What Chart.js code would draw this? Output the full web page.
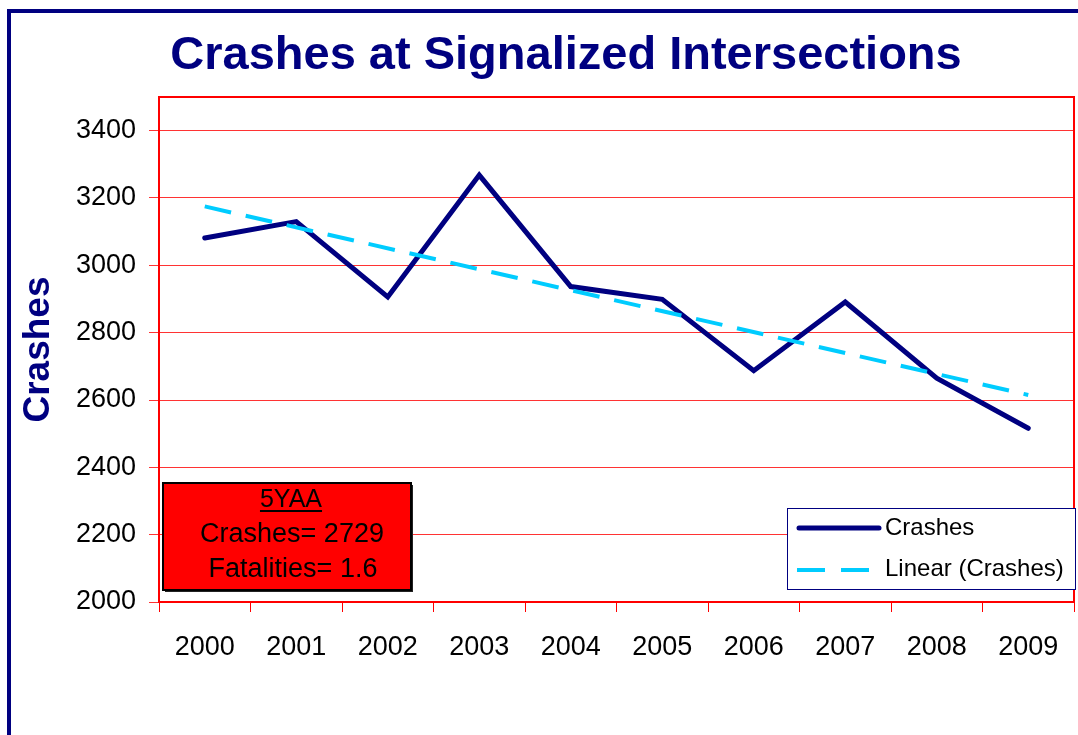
<!DOCTYPE html>
<html>
<head>
<meta charset="utf-8">
<title>Crashes at Signalized Intersections</title>
<script src="https://cdn.jsdelivr.net/npm/chart.js@4.4.1/dist/chart.umd.min.js"></script>
<style>
    html, body { margin: 0; padding: 0; background: #fff; overflow: hidden; }
    #frame {
        position: absolute; left: 7px; top: 9px; width: 1200px; height: 900px;
        border-left: 4px solid #000080; border-top: 4px solid #000080;
    }
    #wrap { position: absolute; left: 0; top: 0; width: 1078px; height: 735px; }
</style>
</head>
<body>
<div id="frame"></div>
<div id="wrap"><canvas id="chart" width="1078" height="735"></canvas></div>
<script>
// Data
const years = ['2000', '2001', '2002', '2003', '2004', '2005', '2006', '2007', '2008', '2009'];
const crashes = [3081, 3130, 2906, 3268, 2937, 2899, 2687, 2891, 2665, 2516];
const trendYears = ['2000', '2009'];
const trendValues = [3175, 2615];
const yTicks = [2000, 2200, 2400, 2600, 2800, 3000, 3200, 3400];

const titleText = 'Crashes at Signalized Intersections';
const infoLines = ['5YAA', 'Crashes= 2729', 'Fatalities= 1.6'];
const legendLabels = ['Crashes', 'Linear (Crashes)'];

const FONT = '"Liberation Sans", Arial, Helvetica, sans-serif';
const NAVY = '#000080';
const CYAN = '#00CCFF';
const RED = '#FF0000';

Chart.defaults.font.family = FONT;

// Title, plot frame, legend and the red 5YAA box
const extrasPlugin = {
    id: 'extras',
    afterDraw(chart) {
        const ctx = chart.ctx;
        const area = chart.chartArea;
        ctx.save();

        // plot frame
        ctx.strokeStyle = RED;
        ctx.lineWidth = 2;
        ctx.strokeRect(area.left, area.top, area.right - area.left, area.bottom - area.top);

        // title
        ctx.fillStyle = NAVY;
        ctx.font = 'bold 47px ' + FONT;
        ctx.textAlign = 'center';
        ctx.textBaseline = 'alphabetic';
        ctx.fillText(titleText, 566, 69);

        // 5YAA box
        const bx = 163, by = 483, bw = 248, bh = 107;
        ctx.fillStyle = '#222';
        ctx.fillRect(bx + 2, by + 2, bw, bh);
        ctx.fillStyle = RED;
        ctx.fillRect(bx, by, bw, bh);
        ctx.strokeStyle = '#000';
        ctx.lineWidth = 2;
        ctx.strokeRect(bx, by, bw, bh);

        ctx.fillStyle = '#000';
        ctx.textAlign = 'center';
        ctx.font = '25px ' + FONT;
        ctx.fillText(infoLines[0], 291, 507);
        const uw = ctx.measureText(infoLines[0]).width;
        ctx.fillRect(291 - uw / 2, 510, uw, 2);
        ctx.font = '27px ' + FONT;
        ctx.fillText(infoLines[1], 292, 542);
        ctx.fillText(infoLines[2], 293, 577);

        // legend
        const lx = 787, ly = 508, lw = 288, lh = 81;
        ctx.fillStyle = '#fff';
        ctx.fillRect(lx, ly, lw, lh);
        ctx.strokeStyle = NAVY;
        ctx.lineWidth = 1;
        ctx.strokeRect(lx + 0.5, ly + 0.5, lw, lh);

        ctx.lineCap = 'round';
        ctx.strokeStyle = NAVY;
        ctx.lineWidth = 5;
        ctx.beginPath();
        ctx.moveTo(799, 528);
        ctx.lineTo(879, 528);
        ctx.stroke();

        ctx.lineCap = 'butt';
        ctx.strokeStyle = CYAN;
        ctx.lineWidth = 4;
        ctx.setLineDash([28, 16]);
        ctx.beginPath();
        ctx.moveTo(797, 570);
        ctx.lineTo(870, 570);
        ctx.stroke();
        ctx.setLineDash([]);

        ctx.fillStyle = '#000';
        ctx.textAlign = 'left';
        ctx.font = '24px ' + FONT;
        ctx.fillText(legendLabels[0], 885, 535);
        ctx.fillText(legendLabels[1], 885, 576);

        ctx.restore();
    }
};

const ctx = document.getElementById('chart').getContext('2d');
const chart = new Chart(ctx, {
    type: 'line',
    data: {
        labels: years,
        datasets: [
            {
                label: legendLabels[0],
                data: crashes,
                borderColor: NAVY,
                backgroundColor: NAVY,
                borderWidth: 5,
                borderCapStyle: 'round',
                borderJoinStyle: 'miter',
                pointRadius: 0,
                tension: 0,
                fill: false,
                order: 1
            },
            {
                label: legendLabels[1],
                data: trendYears.map((y, i) => ({ x: y, y: trendValues[i] })),
                borderColor: CYAN,
                backgroundColor: CYAN,
                borderWidth: 4,
                borderDash: [27, 15],
                pointRadius: 0,
                tension: 0,
                fill: false,
                order: 0
            }
        ]
    },
    options: {
        responsive: false,
        animation: false,
        devicePixelRatio: 1,
        layout: { padding: { top: 97, right: 4, bottom: 0, left: 0 } },
        plugins: {
            legend: { display: false },
            title: { display: false },
            tooltip: { enabled: false }
        },
        scales: {
            x: {
                type: 'category',
                offset: true,
                grid: {
                    offset: true,
                    drawOnChartArea: false,
                    drawTicks: true,
                    tickLength: 10,
                    color: RED
                },
                border: { color: RED, width: 2 },
                ticks: {
                    color: '#000',
                    font: { size: 27 },
                    padding: 19,
                    maxRotation: 0,
                    autoSkip: false
                },
                afterFit(scale) { scale.height = 133; }
            },
            y: {
                min: 2000,
                max: 3500,
                afterBuildTicks(scale) {
                    scale.ticks = yTicks.concat([3500]).map(v => ({ value: v }));
                },
                grid: {
                    color: (c) => (c.tick && c.tick.value === 3500) ? 'rgba(0,0,0,0)' : 'rgba(255,0,0,0.8)',
                    lineWidth: 1,
                    drawTicks: true,
                    tickLength: 10
                },
                border: { color: RED, width: 2 },
                ticks: {
                    color: '#000',
                    font: { size: 27 },
                    padding: 13,
                    callback: (v) => yTicks.includes(v) ? String(v) : ''
                },
                title: {
                    display: true,
                    text: 'Crashes',
                    color: NAVY,
                    font: { size: 37, weight: 'bold' },
                    padding: { top: 17, bottom: 0 }
                },
                afterFit(scale) { scale.width = 159; }
            }
        }
    },
    plugins: [extrasPlugin]
});
</script>
</body>
</html>
